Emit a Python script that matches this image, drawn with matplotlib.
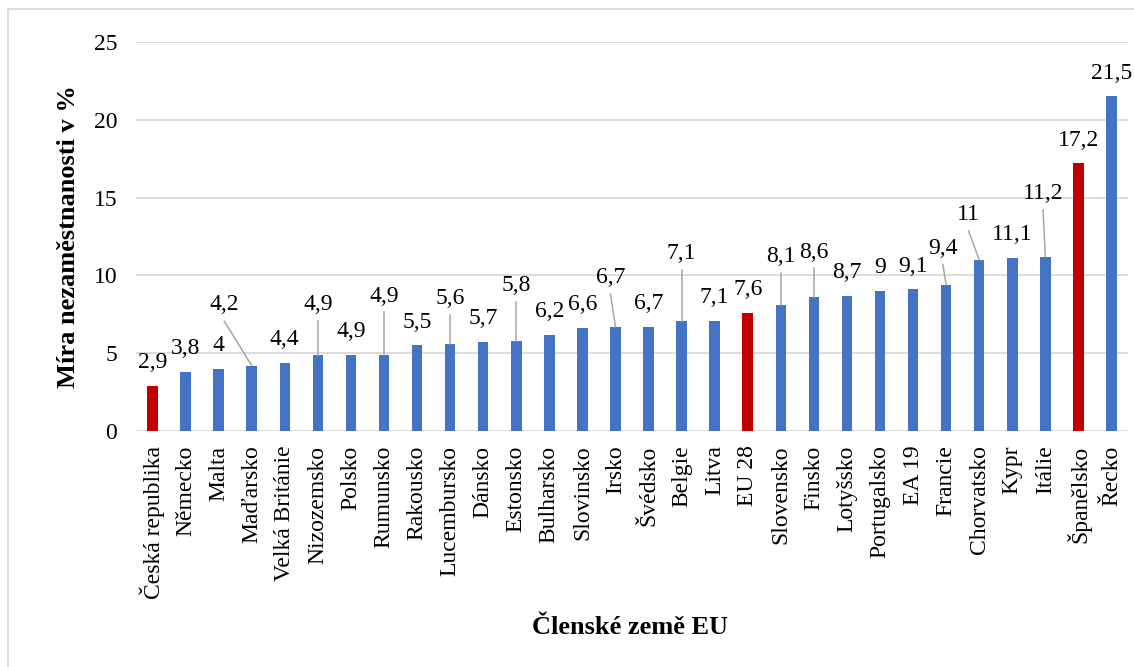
import matplotlib
matplotlib.use("Agg")
import matplotlib.pyplot as plt
import matplotlib.patches as mpatches

# data
countries = ["Česká republika", "Německo", "Malta", "Maďarsko", "Velká Británie",
             "Nizozemsko", "Polsko", "Rumunsko", "Rakousko", "Lucembursko",
             "Dánsko", "Estonsko", "Bulharsko", "Slovinsko", "Irsko",
             "Švédsko", "Belgie", "Litva", "EU 28", "Slovensko",
             "Finsko", "Lotyšsko", "Portugalsko", "EA 19", "Francie",
             "Chorvatsko", "Kypr", "Itálie", "Španělsko", "Řecko"]
rates = [2.9, 3.8, 4.0, 4.2, 4.4, 4.9, 4.9, 4.9, 5.5, 5.6,
         5.7, 5.8, 6.2, 6.6, 6.7, 6.7, 7.1, 7.1, 7.6, 8.1,
         8.6, 8.7, 9.0, 9.1, 9.4, 11.0, 11.1, 11.2, 17.2, 21.5]
highlight = ["Česká republika", "EU 28", "Španělsko"]

# labels moved away from the bar (Excel leader lines): index -> (dx, dy) in data units
moved = {3: (-0.83, 3.9), 5: (0, 3.24), 7: (0, 3.77), 9: (0, 2.9), 11: (0, 3.55),
         14: (-0.15, 3.14), 16: (0, 4.3), 19: (0, 3.1), 20: (0, 2.9),
         24: (-0.1, 2.36), 25: (-0.32, 2.9), 27: (-0.07, 4.06)}

BLUE = "#4472C4"
RED = "#C00000"
GRID = "#D9D9D9"
plt.rcParams["font.family"] = ["Liberation Serif", "DejaVu Serif"]

fig = plt.figure(figsize=(11.34, 6.67), dpi=100)
ax = fig.add_axes([136 / 1134, 1 - 431 / 667, 992 / 1134, 389 / 667])

# outer chart frame (only left/top visible, cropped on the right and bottom)
fig.patches.append(mpatches.Rectangle((8 / 1134, -0.1), 1.2, 1 - 9 / 667 + 0.1,
                                      transform=fig.transFigure, fill=False,
                                      edgecolor=GRID, linewidth=1.3))

x = list(range(len(countries)))
colors = [RED if c in highlight else BLUE for c in countries]
ax.bar(x, rates, width=0.32, color=colors, zorder=3)

def fmt(v):
    s = ("%.1f" % v).rstrip("0").rstrip(".")
    return s.replace(".", ",")

for i, v in enumerate(rates):
    if i in moved:
        dx, dy = moved[i]
        lx, ly = i + dx, v + dy
        ax.plot([lx, i], [ly - 1.05, v], color="#A6A6A6", lw=1.1, zorder=4,
                clip_on=False)
    else:
        lx, ly = i, v + 1.5
    ax.text(lx, ly, fmt(v), ha="center", va="center", fontsize=17, zorder=5,
            clip_on=False)

ax.set_xlim(-0.5, len(countries) - 0.5)
ax.set_ylim(0, 25)
ax.set_yticks([0, 5, 10, 15, 20, 25])
ax.set_xticks(x)
ax.set_xticklabels(countries, rotation=90, fontsize=17)
ax.tick_params(axis="y", labelsize=17, length=0, pad=13.5)
ax.tick_params(axis="x", length=0, pad=10.5)
ax.grid(axis="y", color=GRID, lw=1.3, zorder=0)
ax.set_axisbelow(True)
for s in ax.spines.values():
    s.set_visible(False)

ax.set_ylabel("Míra nezaměstnanosti v %", fontsize=19, fontweight="bold")
ax.yaxis.set_label_coords(-0.0685, 0.5)
ax.set_xlabel("Členské země EU", fontsize=19, fontweight="bold")
ax.xaxis.set_label_coords(0.498, -0.506)
for lbl in [ax.yaxis.label, ax.xaxis.label]:
    lbl.set_verticalalignment("center")

fig.savefig("out.png", dpi=100)
